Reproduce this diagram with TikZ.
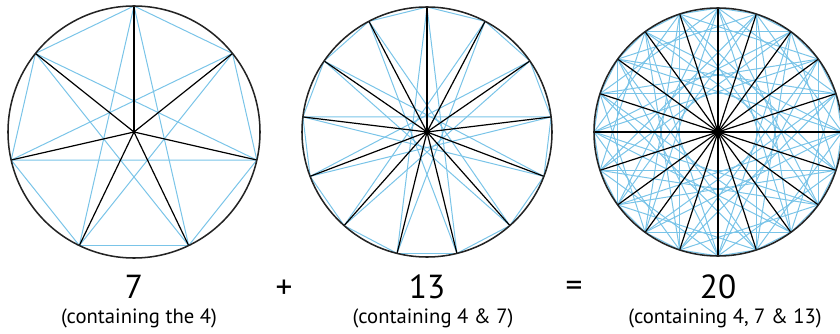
\documentclass[tikz,border=0pt]{standalone}
\usepackage{fontspec}
\setmainfont{PT Sans}
\definecolor{chordblue}{RGB}{122,196,232}
\definecolor{rimgray}{RGB}{35,35,35}
\tikzset{
  rim/.style={draw=rimgray,line width=1.15pt},
  spoke/.style={draw=black,line width=0.9pt},
  chord/.style={draw=chordblue,line width=0.75pt},
  hub/.style={fill=black},
  bignum/.style={font=\fontsize{25}{30}\selectfont},
  subnum/.style={font=\fontsize{15.5}{18}\selectfont}
}
\begin{document}
\begin{tikzpicture}[x=0.75pt,y=0.75pt]
\useasboundingbox (0,0) rectangle (840,333);
% 7
\coordinate (seven) at (134,201);
\foreach \s in {1,3}
  \foreach \k in {0,...,6}
    \draw[chord,shift={(seven)}] (90+\k*360/7:126)--(90+\k*360/7+\s*360/7:126);
\foreach \k in {0,...,6}
  \draw[spoke,shift={(seven)}] (0,0)--(90+\k*360/7:126);
\draw[rim] (seven) circle (126);
\fill[hub] (seven) circle (1.5);
% 13
\coordinate (thirteen) at (427,201);
\foreach \s in {1,6}
  \foreach \k in {0,...,12}
    \draw[chord,shift={(thirteen)}] (90+\k*360/13:125)--(90+\k*360/13+\s*360/13:125);
\foreach \k in {0,...,12}
  \draw[spoke,shift={(thirteen)}] (0,0)--(90+\k*360/13:125);
\draw[rim] (thirteen) circle (125);
\fill[hub] (thirteen) circle (3);
% 20
\coordinate (twenty) at (718,201);
\foreach \s in {1,4,7,8}
  \foreach \k in {0,...,19}
    \draw[chord,shift={(twenty)}] (90+\k*18:124)--(90+\k*18+\s*18:124);
\foreach \k in {0,...,19}
  \draw[spoke,shift={(twenty)}] (0,0)--(90+\k*18:124);
\draw[rim] (twenty) circle (124);
\fill[hub] (twenty) circle (4.5);
% labels
\node[bignum] (n7) at (134,46) {7};
\node[subnum] (t7) at (139,15) {(containing the 4)};
\node[bignum] (plus) at (284,44) {+};
\node[bignum] (n13) at (427,46) {13};
\node[subnum] (t13) at (433,15) {(containing 4 \& 7)};
\node[bignum] (eq) at (574,44) {=};
\node[bignum] (n20) at (718,46) {20};
\node[subnum] (t20) at (725,15) {(containing 4, 7 \& 13)};
\end{tikzpicture}
\end{document}
